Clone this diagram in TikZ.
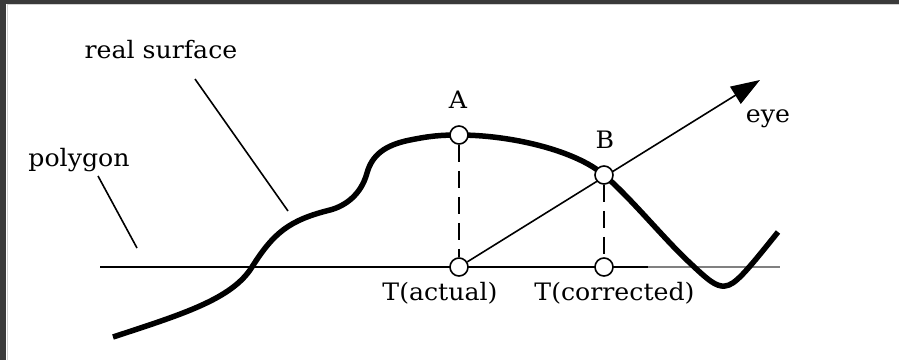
\documentclass[tikz,border=0pt]{standalone}
\usepackage{fontspec}
\setmainfont[FakeStretch=1.05]{DejaVu Serif}
\usetikzlibrary{arrows.meta}
\pgfdeclarelayer{bg}
\pgfsetlayers{bg,main}
\definecolor{framec}{HTML}{3A3A3A}
\begin{document}
\begin{tikzpicture}[x=1pt,y=-1pt,
  lbl/.style={font=\fontsize{24}{28}\selectfont, anchor=base, inner sep=0pt},
  pt/.style={circle, draw=black, fill=white, line width=1.6pt, minimum size=18pt, inner sep=0pt},
  leader/.style={line width=1.6pt},
  proj/.style={line width=1.4pt, dash pattern=on 17pt off 9pt},
  surface/.style={line width=5.5pt, line join=round},
  ray/.style={line width=1.6pt, -{Triangle[length=29pt,width=20pt]}}]
\useasboundingbox (0,0) rectangle (899,360);
% frame
\fill[framec] (0,0) rectangle (899,3.5);
\fill[framec] (0,0) rectangle (6,360);
\draw[gray!35, line width=1pt] (7.5,4) -- (7.5,360);
\draw[gray!35, line width=1pt] (7,4.5) -- (899,4.5);

% points
\node[pt] (A) at (459,135) {};
\node[pt] (B) at (604,175) {};
\node[pt] (TA) at (459,267) {};
\node[pt] (TC) at (604,267) {};
\coordinate (eye) at (760,80);
\coordinate (pl) at (100,267);
\coordinate (pm) at (648,267);
\coordinate (pr) at (780,267);

% labels
\node[lbl] (lreal) at (161,58) {real surface};
\node[lbl] (lpoly) at (79,166) {polygon};
\node[lbl] (lA) at (458,108) {A};
\node[lbl] (lB) at (605,148) {B};
\node[lbl] (leye) at (768,122) {eye};
\node[lbl] (lTA) at (440,300) {T(actual)};
\node[lbl] (lTC) at (614.5,300) {T(corrected)};

\coordinate (r1) at (195,79);
\coordinate (r2) at (288,211);
\coordinate (p1) at (98,176);
\coordinate (p2) at (137,248);

\begin{pgfonlayer}{bg}
\draw[line width=2pt] (pl) -- (pm);
\draw[gray, line width=2pt] (pm) -- (pr);
\draw[leader] (r1) -- (r2);
\draw[leader] (p1) -- (p2);
\draw[proj] (A) -- (TA);
\draw[proj] (B) -- (TC);
\draw[ray] (TA) -- (eye);
\draw[surface] (113,337)
  .. controls (183,314) and (232,299) .. (252,267)
  .. controls (274,232) and (290,220) .. (330,210)
  .. controls (345,206) and (361,195) .. (367,173)
  .. controls (372,155) and (385,145) .. (410,140)
  .. controls (430,136) and (440,135) .. (A.center)
  .. controls (510,135) and (575,150) .. (B.center)
  .. controls (630,197) and (665,240) .. (690,263)
  .. controls (708,280) and (716,287) .. (725,286)
  .. controls (735,285) and (745,273) .. (778,232);
\end{pgfonlayer}
\end{tikzpicture}
\end{document}
